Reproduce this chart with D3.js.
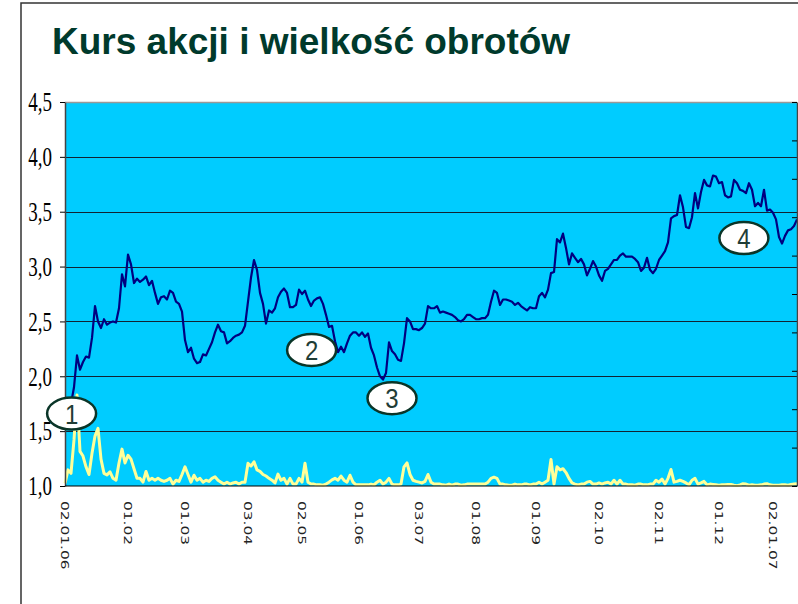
<!doctype html>
<html lang="pl">
<head>
    <meta charset="utf-8">
    <title>Kurs akcji i wielkość obrotów</title>
    <script src="https://d3js.org/d3.v7.min.js"></script>
    <style type="text/css">
        body { margin: 0; background: #fff; }
        svg { display: block; }
    </style>
</head>

<body>
</body>

<script type="text/javascript">

    // daily close price (PLN), one value per session
    var price = [
        1.60, 1.65, 1.75, 1.90, 2.19, 2.06, 2.13, 2.18, 2.17, 2.35,
        2.64, 2.50, 2.44, 2.52, 2.47, 2.49, 2.50, 2.49, 2.62, 2.93,
        2.82, 3.11, 3.02, 2.85, 2.89, 2.86, 2.88, 2.91, 2.83, 2.87,
        2.76, 2.66, 2.72, 2.73, 2.70, 2.78, 2.76, 2.68, 2.66, 2.59,
        2.33, 2.22, 2.26, 2.16, 2.12, 2.13, 2.20, 2.19, 2.25, 2.31,
        2.40, 2.47, 2.41, 2.40, 2.30, 2.32, 2.35, 2.37, 2.38, 2.40,
        2.46, 2.68, 2.90, 3.06, 2.97, 2.76, 2.66, 2.48, 2.60, 2.58,
        2.62, 2.72, 2.77, 2.80, 2.76, 2.63, 2.63, 2.65, 2.79, 2.75,
        2.78, 2.70, 2.64, 2.69, 2.71, 2.72, 2.66, 2.56, 2.45, 2.46,
        2.32, 2.22, 2.27, 2.22, 2.30, 2.37, 2.40, 2.40, 2.37, 2.40,
        2.36, 2.39, 2.26, 2.19, 2.08, 2.00, 1.97, 2.03, 2.31, 2.23,
        2.20, 2.15, 2.14, 2.30, 2.53, 2.50, 2.43, 2.43, 2.42, 2.44,
        2.48, 2.64, 2.62, 2.62, 2.64, 2.58, 2.59, 2.58, 2.57, 2.56,
        2.54, 2.51, 2.50, 2.52, 2.56, 2.56, 2.54, 2.52, 2.52, 2.53,
        2.53, 2.56, 2.68, 2.78, 2.76, 2.65, 2.70, 2.70, 2.69, 2.68,
        2.65, 2.67, 2.64, 2.62, 2.60, 2.63, 2.62, 2.62, 2.73, 2.76,
        2.72, 2.79, 2.94, 2.95, 3.25, 3.22, 3.30, 3.17, 3.02, 3.12,
        3.08, 3.04, 3.07, 3.02, 2.92, 2.98, 3.05, 3.00, 2.92, 2.87,
        2.96, 2.98, 3.02, 3.06, 3.06, 3.10, 3.12, 3.09, 3.09, 3.09,
        3.07, 3.04, 2.96, 2.99, 3.08, 2.97, 2.94, 2.98, 3.06, 3.10,
        3.14, 3.22, 3.44, 3.46, 3.47, 3.65, 3.54, 3.36, 3.35, 3.45,
        3.67, 3.53, 3.68, 3.79, 3.74, 3.73, 3.83, 3.82, 3.76, 3.77,
        3.65, 3.63, 3.64, 3.79, 3.76, 3.70, 3.69, 3.67, 3.76, 3.70,
        3.55, 3.58, 3.55, 3.70, 3.51, 3.52, 3.49, 3.43, 3.27, 3.21,
        3.28, 3.33, 3.34, 3.37, 3.43
    ];

    // turnover, secondary axis (units of the right-hand scale)
    var volume = [
        0.07, 0.42, 0.33, 1.20, 2.37, 0.90, 0.78, 0.50, 0.30, 0.85,
        1.30, 1.50, 0.70, 0.33, 0.29, 0.37, 0.20, 0.15, 0.60, 0.96,
        0.60, 0.80, 0.70, 0.45, 0.20, 0.20, 0.10, 0.38, 0.15, 0.20,
        0.15, 0.20, 0.15, 0.12, 0.15, 0.20, 0.05, 0.15, 0.12, 0.30,
        0.50, 0.30, 0.10, 0.28, 0.15, 0.20, 0.10, 0.15, 0.12, 0.20,
        0.24, 0.15, 0.10, 0.05, 0.10, 0.05, 0.08, 0.10, 0.05, 0.10,
        0.10, 0.59, 0.52, 0.63, 0.42, 0.38, 0.30, 0.26, 0.20, 0.15,
        0.08, 0.31, 0.15, 0.20, 0.05, 0.20, 0.05, 0.05, 0.20, 0.10,
        0.59, 0.10, 0.05, 0.05, 0.03, 0.03, 0.02, 0.05, 0.10, 0.16,
        0.20, 0.15, 0.26, 0.15, 0.10, 0.28, 0.10, 0.03, 0.03, 0.03,
        0.03, 0.03, 0.05, 0.03, 0.10, 0.15, 0.05, 0.10, 0.20, 0.05,
        0.03, 0.03, 0.05, 0.50, 0.60, 0.30, 0.15, 0.12, 0.10, 0.08,
        0.12, 0.30, 0.10, 0.05, 0.05, 0.05, 0.03, 0.02, 0.05, 0.02,
        0.05, 0.05, 0.02, 0.03, 0.05, 0.05, 0.05, 0.05, 0.05, 0.05,
        0.05, 0.10, 0.20, 0.23, 0.20, 0.05, 0.05, 0.03, 0.02, 0.02,
        0.05, 0.03, 0.03, 0.05, 0.05, 0.03, 0.05, 0.05, 0.10, 0.05,
        0.10, 0.15, 0.69, 0.05, 0.50, 0.42, 0.45, 0.35, 0.20, 0.08,
        0.05, 0.03, 0.05, 0.05, 0.10, 0.12, 0.05, 0.05, 0.08, 0.05,
        0.08, 0.10, 0.05, 0.15, 0.05, 0.15, 0.05, 0.05, 0.03, 0.03,
        0.02, 0.05, 0.05, 0.03, 0.03, 0.05, 0.05, 0.15, 0.10, 0.18,
        0.05, 0.20, 0.43, 0.10, 0.12, 0.15, 0.12, 0.08, 0.03, 0.15,
        0.20, 0.05, 0.08, 0.12, 0.03, 0.05, 0.04, 0.03, 0.02, 0.03,
        0.03, 0.04, 0.04, 0.02, 0.01, 0.03, 0.06, 0.05, 0.02, 0.03,
        0.02, 0.02, 0.03, 0.05, 0.06, 0.03, 0.02, 0.02, 0.02, 0.03,
        0.03, 0.02, 0.04, 0.05, 0.06
    ];

    // date labels and the session index they sit at
    var tickLabels = ["02.01.06","01.02","01.03","03.04","02.05","01.06","03.07",
                      "01.08","01.09","02.10","02.11","01.12","02.01.07"];
    var tickIndex  = [0, 21, 40, 61, 79, 98, 118, 137, 157, 178, 198, 218, 236];

    var priceTicks  = [1.0, 1.5, 2.0, 2.5, 3.0, 3.5, 4.0, 4.5];
    var volumeTicks = [0, 1, 2, 3, 4, 5, 6, 7, 8, 9, 10];

    // numbered callouts: session index and price level of their centre
    var noteLabels = ["1", "2", "3", "4"];
    var noteIndex  = [2.2, 82.2, 109, 226.3];
    var noteLevel  = [1.66, 2.24, 1.80, 3.26];

    var pixel_width  = 798;
    var pixel_height = 604;
    var plotLeft = 65, plotRight = 797, plotTop = 102, plotBottom = 486;

    var xScale = d3.scaleLinear()
                 .domain([0, price.length - 1])
                 .range([plotLeft, plotRight]);

    var yScale = d3.scaleLinear()
                 .domain([1.0, 4.5])
                 .range([plotBottom, plotTop]);

    var y2Scale = d3.scaleLinear()
                  .domain([0, 10])
                  .range([plotBottom, plotTop]);

    var svg = d3.select("body")
                .append("svg")
                .attr("width", pixel_width)
                .attr("height", pixel_height)
                .style("background", "#fff");

    // slide frame
    svg.append("path")
       .attr("d", "M21," + pixel_height + "V3H" + pixel_width)
       .attr("fill", "none")
       .attr("stroke", "#333")
       .attr("stroke-width", 1.5);

    svg.append("text")
       .text("Kurs akcji i wielkość obrotów")
       .attr("x", 52)
       .attr("y", 54)
       .style("font-family", "'Liberation Sans', Arial, sans-serif")
       .style("font-weight", "bold")
       .style("font-size", "37px")
       .style("fill", "#003a2c");

    // plot area
    svg.append("rect")
       .attr("x", plotLeft)
       .attr("y", plotTop)
       .attr("width", plotRight - plotLeft)
       .attr("height", plotBottom - plotTop)
       .attr("fill", "#00ccff");

    svg.append("line")
       .attr("x1", plotLeft).attr("x2", plotRight)
       .attr("y1", plotTop + 0.5).attr("y2", plotTop + 0.5)
       .attr("stroke", "#999")
       .attr("stroke-width", 1.5);

    svg.selectAll("line.grid")
       .data(priceTicks.filter((d)=>d > 1 && d < 4.5))
       .enter()
       .append("line")
       .attr("class", "grid")
       .attr("x1", plotLeft)
       .attr("x2", plotRight)
       .attr("y1", (d)=>Math.round(yScale(d)) + 0.5)
       .attr("y2", (d)=>Math.round(yScale(d)) + 0.5)
       .attr("stroke", "#123")
       .attr("stroke-width", 1.2);

    var volLine = d3.line()
                  .x((d,i)=>xScale(i))
                  .y((d)=>y2Scale(d));

    var priceLine = d3.line()
                    .x((d,i)=>xScale(i))
                    .y((d)=>yScale(d));

    svg.append("path")
       .datum(volume)
       .attr("d", volLine)
       .attr("fill", "none")
       .attr("stroke", "#ffff99")
       .attr("stroke-width", 3)
       .attr("stroke-linejoin", "round");

    svg.append("path")
       .datum(price)
       .attr("d", priceLine)
       .attr("fill", "none")
       .attr("stroke", "#000080")
       .attr("stroke-width", 2.2)
       .attr("stroke-linejoin", "round");

    // left axis
    var yAxis = d3.axisLeft(yScale)
                .tickValues(priceTicks)
                .tickSizeInner(5)
                .tickSizeOuter(0)
                .tickFormat((d)=>d3.format(".1f")(d).replace(".", ","));

    var gy = svg.append("g")
                .attr("transform", "translate(" + plotLeft + ",0)")
                .call(yAxis);
    gy.select(".domain").attr("stroke", "#444").attr("stroke-width", 1.5);
    gy.selectAll(".tick line").attr("stroke", "#000");
    gy.selectAll(".tick text")
      .attr("x", null)
      .attr("transform", "translate(-13,0) scale(1,1.4)")
      .attr("dy", "0.33em")
      .style("font-family", "'Liberation Serif', 'Times New Roman', serif")
      .style("font-size", "19px")
      .style("fill", "#000");

    // right axis, ticks only
    var y2Axis = d3.axisLeft(y2Scale)
                 .tickValues(volumeTicks)
                 .tickSizeInner(5)
                 .tickSizeOuter(0)
                 .tickFormat("");

    var gy2 = svg.append("g")
                 .attr("transform", "translate(" + plotRight + ",0)")
                 .call(y2Axis);
    gy2.select(".domain").attr("stroke", "#444").attr("stroke-width", 1.5);
    gy2.selectAll(".tick line").attr("stroke", "#000");

    // bottom axis
    svg.append("line")
       .attr("x1", plotLeft).attr("x2", plotRight)
       .attr("y1", plotBottom).attr("y2", plotBottom)
       .attr("stroke", "#000")
       .attr("stroke-width", 1.2);

    svg.selectAll("text.date")
       .data(tickLabels)
       .enter()
       .append("text")
       .attr("class", "date")
       .text((d)=>d)
       .attr("transform", (d,i)=>"translate(" + xScale(tickIndex[i]) + ",501) rotate(90) scale(1.4,1)")
       .attr("dy", "0.36em")
       .style("font-family", "'DejaVu Sans', Verdana, sans-serif")
       .style("font-size", "11px")
       .style("fill", "#222");

    // callouts
    var notes = svg.selectAll("g.note")
                   .data(noteLabels)
                   .enter()
                   .append("g")
                   .attr("class", "note")
                   .attr("transform", (d,i)=>"translate(" + xScale(noteIndex[i]) + "," + yScale(noteLevel[i]) + ")");

    notes.append("ellipse")
         .attr("rx", 24.5)
         .attr("ry", 16)
         .attr("fill", "#fff")
         .attr("stroke", "#0a3528")
         .attr("stroke-width", 2.5);

    notes.append("text")
         .text((d)=>d)
         .attr("text-anchor", "middle")
         .attr("transform", "scale(1,1.15)")
         .attr("dy", "0.36em")
         .style("font-family", "'Liberation Sans', Arial, sans-serif")
         .style("font-size", "24px")
         .style("fill", "#1f3d36");

</script>

</html>
